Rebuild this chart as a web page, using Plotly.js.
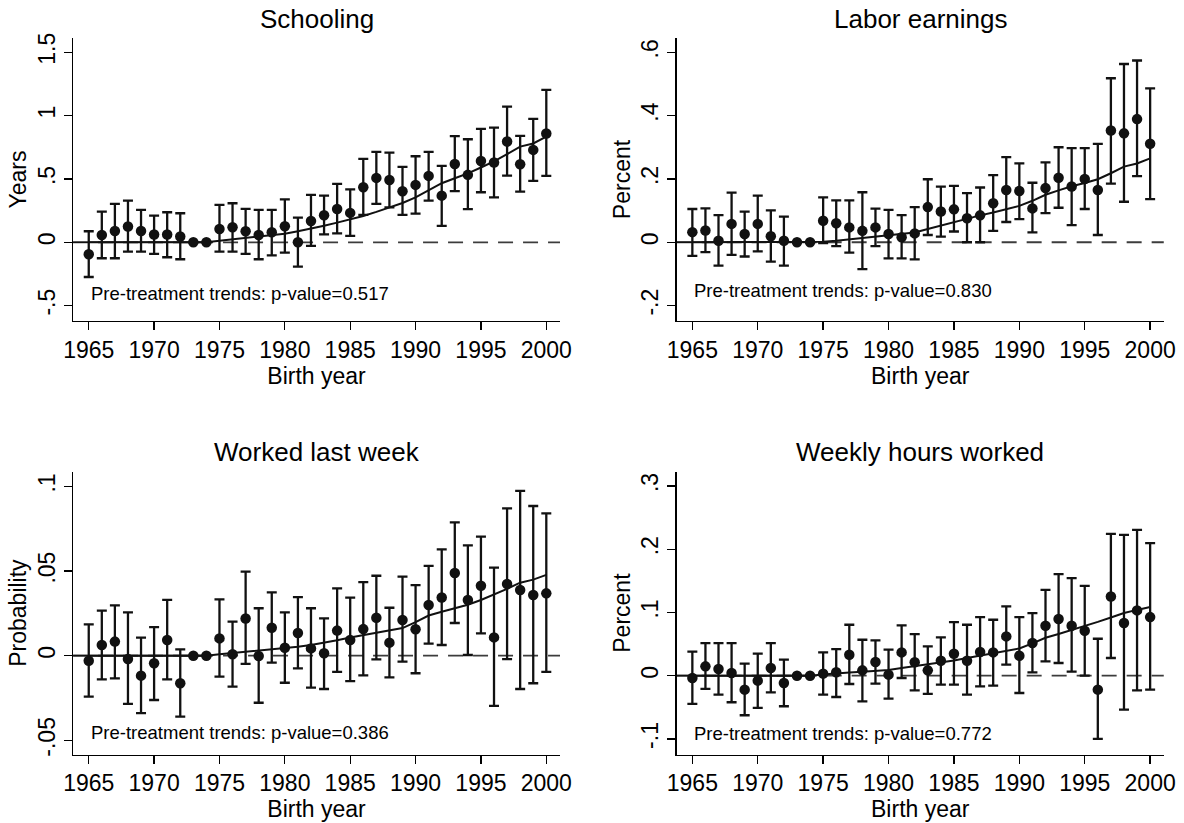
<!DOCTYPE html>
<html>
<head>
<meta charset="utf-8">
<script src="https://cdn.plot.ly/plotly-3.0.1.min.js"></script>
<style>
  html, body { margin: 0; padding: 0; background: #fff; }
  #chart { width: 1184px; height: 823px; }
</style>
</head>
<body>
<div id="chart"></div>
<script>
// Birth-year event-study estimates with 95% confidence intervals and fitted trend.
const years = [1965, 1966, 1967, 1968, 1969, 1970, 1971, 1972, 1973, 1974,
               1975, 1976, 1977, 1978, 1979, 1980, 1981, 1982, 1983, 1984,
               1985, 1986, 1987, 1988, 1989, 1990, 1991, 1992, 1993, 1994,
               1995, 1996, 1997, 1998, 1999, 2000];

// Last pre-treatment cohort (reference years carry no interval)
const lastPreYear = 1974;

// Schooling (years)
const schoolingEst = [-0.095, 0.058, 0.089, 0.124, 0.089, 0.061, 0.061, 0.045, 0, 0,
  0.105, 0.118, 0.087, 0.058, 0.079, 0.126, 0.0, 0.168, 0.213, 0.263,
  0.232, 0.434, 0.508, 0.492, 0.403, 0.453, 0.524, 0.368, 0.618, 0.532,
  0.642, 0.629, 0.795, 0.616, 0.729, 0.858];
const schoolingLo = [-0.274, -0.126, -0.126, -0.074, -0.074, -0.092, -0.118, -0.134, null, null,
  -0.074, -0.074, -0.092, -0.134, -0.103, -0.082, -0.192, -0.029, 0.063, 0.071,
  0.05, 0.216, 0.303, 0.276, 0.216, 0.226, 0.329, 0.129, 0.403, 0.261,
  0.395, 0.355, 0.526, 0.4, 0.484, 0.524];
const schoolingHi = [0.087, 0.242, 0.303, 0.329, 0.255, 0.211, 0.237, 0.229, null, null,
  0.295, 0.308, 0.263, 0.255, 0.255, 0.339, 0.195, 0.374, 0.368, 0.461,
  0.418, 0.658, 0.713, 0.708, 0.595, 0.679, 0.713, 0.603, 0.837, 0.813,
  0.895, 0.905, 1.071, 0.839, 0.974, 1.203];
const schoolingFit = [0, 0, 0, 0, 0, 0, 0, 0, 0, 0,
  0.012, 0.024, 0.035, 0.045, 0.056, 0.068, 0.087, 0.107, 0.13, 0.155,
  0.18, 0.208, 0.24, 0.273, 0.31, 0.355, 0.41, 0.466, 0.505, 0.544,
  0.59, 0.638, 0.695, 0.755, 0.78, 0.834];

// Labor earnings (percent)
const earningsEst = [0.032, 0.037, 0.005, 0.058, 0.026, 0.058, 0.019, 0.005, 0, 0,
  0.068, 0.06, 0.047, 0.036, 0.047, 0.026, 0.016, 0.028, 0.111, 0.097,
  0.104, 0.076, 0.085, 0.123, 0.165, 0.162, 0.107, 0.171, 0.204, 0.176,
  0.2, 0.165, 0.353, 0.344, 0.389, 0.311];
const earningsLo = [-0.043, -0.031, -0.074, -0.04, -0.045, -0.029, -0.061, -0.074, null, null,
  -0.003, -0.012, -0.033, -0.085, -0.012, -0.051, -0.051, -0.054, 0.023, 0.018,
  0.034, 0.0, 0.0, 0.036, 0.064, 0.073, 0.031, 0.092, 0.109, 0.054,
  0.105, 0.023, 0.185, 0.128, 0.209, 0.136];
const earningsHi = [0.105, 0.107, 0.086, 0.157, 0.097, 0.147, 0.101, 0.081, null, null,
  0.142, 0.132, 0.132, 0.158, 0.106, 0.102, 0.086, 0.111, 0.199, 0.176,
  0.178, 0.155, 0.173, 0.212, 0.269, 0.249, 0.188, 0.252, 0.3, 0.297,
  0.297, 0.311, 0.518, 0.563, 0.574, 0.486];
const earningsFit = [0, 0, 0, 0, 0, 0, 0, 0, 0, 0,
  0.002, 0.005, 0.009, 0.013, 0.017, 0.021, 0.025, 0.031, 0.042, 0.053,
  0.063, 0.075, 0.085, 0.094, 0.104, 0.115, 0.131, 0.15, 0.164, 0.177,
  0.187, 0.199, 0.218, 0.239, 0.249, 0.265];

// Worked last week (probability)
const workedEst = [-0.003, 0.0063, 0.0083, -0.002, -0.0118, -0.0045, 0.0093, -0.0163, 0, 0,
  0.0102, 0.0008, 0.022, -0.0002, 0.0165, 0.0047, 0.0134, 0.0043, 0.0014, 0.0148,
  0.0093, 0.0157, 0.0224, 0.0077, 0.0211, 0.0156, 0.0299, 0.0344, 0.0488, 0.0329,
  0.0413, 0.0108, 0.0423, 0.0388, 0.0358, 0.0368];
const workedLo = [-0.0242, -0.014, -0.0134, -0.0285, -0.034, -0.0262, -0.014, -0.036, null, null,
  -0.0124, -0.0183, -0.0049, -0.0278, -0.0041, -0.016, -0.0075, -0.0189, -0.0197, -0.0096,
  -0.015, -0.0116, -0.0022, -0.0128, -0.0035, -0.0104, 0.0071, 0.0063, 0.0193, 0.0004,
  0.0132, -0.0297, -0.002, -0.0197, -0.0163, -0.0096];
const workedHi = [0.0185, 0.0266, 0.0297, 0.0256, 0.0106, 0.0169, 0.0329, 0.0037, null, null,
  0.0333, 0.0201, 0.0496, 0.028, 0.0374, 0.0256, 0.0346, 0.028, 0.022, 0.0398,
  0.0343, 0.0435, 0.0472, 0.0283, 0.0467, 0.0417, 0.053, 0.0628, 0.0787, 0.0652,
  0.0703, 0.052, 0.087, 0.0974, 0.0884, 0.0841];
const workedFit = [0, 0, 0, 0, 0, 0, 0, 0, 0, 0,
  0.0008, 0.0015, 0.0022, 0.003, 0.0035, 0.0042, 0.0052, 0.0063, 0.0075, 0.0091,
  0.0107, 0.0122, 0.0135, 0.0149, 0.0163, 0.0198, 0.0237, 0.0259, 0.028, 0.0301,
  0.0329, 0.0361, 0.0395, 0.0431, 0.0449, 0.0477];

// Weekly hours worked (percent)
const hoursEst = [-0.0037, 0.0147, 0.0105, 0.0042, -0.0221, -0.0079, 0.0121, -0.0116, 0, 0,
  0.0032, 0.0053, 0.0332, 0.0084, 0.0216, 0.0016, 0.0368, 0.0211, 0.0084, 0.0237,
  0.0347, 0.0237, 0.0374, 0.0368, 0.0621, 0.0316, 0.0516, 0.0789, 0.0895, 0.0789,
  0.0711, -0.0221, 0.1253, 0.0832, 0.1032, 0.0926];
const hoursLo = [-0.0447, -0.021, -0.03, -0.042, -0.0626, -0.051, -0.0263, -0.0484, null, null,
  -0.03, -0.0337, -0.0132, -0.0405, -0.0126, -0.0363, -0.0037, -0.0232, -0.0289, -0.0142,
  -0.0142, -0.03, -0.0168, -0.0158, 0.0174, -0.0274, 0.0053, 0.0226, 0.02, 0.0063,
  0.0, -0.1, 0.0279, -0.0537, -0.0232, -0.0221];
const hoursHi = [0.038, 0.0516, 0.0516, 0.0516, 0.019, 0.0347, 0.0516, 0.0253, null, null,
  0.0368, 0.0421, 0.0805, 0.0568, 0.0558, 0.0411, 0.0795, 0.0658, 0.0463, 0.0605,
  0.0847, 0.0805, 0.0926, 0.0884, 0.1095, 0.0926, 0.0989, 0.1358, 0.1605, 0.1542,
  0.1421, 0.0584, 0.2242, 0.2226, 0.2305, 0.2095];
const hoursFit = [0, 0, 0, 0, 0, 0, 0, 0, 0, 0,
  0.002, 0.004, 0.005, 0.006, 0.007, 0.009, 0.012, 0.015, 0.0175, 0.021,
  0.024, 0.028, 0.032, 0.035, 0.039, 0.043, 0.051, 0.06, 0.066, 0.072,
  0.078, 0.085, 0.092, 0.099, 0.104, 0.1085];

const xTickVals = [1965, 1970, 1975, 1980, 1985, 1990, 1995, 2000];

// Panel definitions
const panels = [
  { title: 'Schooling', ytitle: 'Years', est: schoolingEst, lo: schoolingLo, hi: schoolingHi, fit: schoolingFit,
    pval: '0.517', yrange: [-0.621, 1.612], ytickvals: [-0.5, 0, 0.5, 1, 1.5], yticktext: ['-.5', '0', '.5', '1', '1.5'], noteY: -0.408,
    xdom: [0.0617, 0.473], ydom: [0.610, 0.9538] },
  { title: 'Labor earnings', ytitle: 'Percent', est: earningsEst, lo: earningsLo, hi: earningsHi, fit: earningsFit,
    pval: '0.830', yrange: [-0.2485, 0.645], ytickvals: [-0.2, 0, 0.2, 0.4, 0.6], yticktext: ['-.2', '0', '.2', '.4', '.6'], noteY: -0.152,
    xdom: [0.5715, 0.983], ydom: [0.610, 0.9538] },
  { title: 'Worked last week', ytitle: 'Probability', est: workedEst, lo: workedLo, hi: workedHi, fit: workedFit,
    pval: '0.386', yrange: [-0.0584, 0.1087], ytickvals: [-0.05, 0, 0.05, 0.1], yticktext: ['-.05', '0', '.05', '.1'], noteY: -0.0454,
    xdom: [0.0617, 0.473], ydom: [0.0832, 0.4269] },
  { title: 'Weekly hours worked', ytitle: 'Percent', est: hoursEst, lo: hoursLo, hi: hoursHi, fit: hoursFit,
    pval: '0.772', yrange: [-0.1247, 0.3226], ytickvals: [-0.1, 0, 0.1, 0.2, 0.3], yticktext: ['-.1', '0', '.1', '.2', '.3'], noteY: -0.0916,
    xdom: [0.5715, 0.983], ydom: [0.0832, 0.4269] }
];

const xRange = [1963.8, 2001.05];
const FONT = 'Liberation Sans, Arial, Helvetica, sans-serif';
const INK = '#111111';

const traces = [];
const shapes = [];
const annotations = [];
const layout = {
  width: 1184, height: 823,
  margin: { l: 0, r: 0, t: 0, b: 0 },
  paper_bgcolor: '#ffffff', plot_bgcolor: '#ffffff',
  showlegend: false,
  font: { family: FONT, color: '#000', size: 22 }
};

panels.forEach((p, i) => {
  const n = i + 1;
  const xa = n === 1 ? 'x' : 'x' + n;
  const ya = n === 1 ? 'y' : 'y' + n;
  const xKey = n === 1 ? 'xaxis' : 'xaxis' + n;
  const yKey = n === 1 ? 'yaxis' : 'yaxis' + n;

  const plus = p.est.map((v, k) => p.hi[k] === null ? null : p.hi[k] - v);
  const minus = p.est.map((v, k) => p.lo[k] === null ? null : v - p.lo[k]);

  // Zero reference: dashed across the panel, solid over the pre-treatment span
  shapes.push({ type: 'line', xref: xa, yref: ya, x0: xRange[0], x1: xRange[1], y0: 0, y1: 0,
    line: { color: '#3c3c3c', width: 1.8, dash: '15px,10px' }, layer: 'below' });
  shapes.push({ type: 'line', xref: xa, yref: ya, x0: xRange[0], x1: lastPreYear, y0: 0, y1: 0,
    line: { color: INK, width: 1.6 }, layer: 'below' });

  // Fitted trend
  traces.push({ type: 'scatter', mode: 'lines', x: years, y: p.fit, xaxis: xa, yaxis: ya,
    line: { color: INK, width: 2 }, hoverinfo: 'skip' });

  // Point estimates with confidence intervals
  traces.push({ type: 'scatter', mode: 'markers', x: years, y: p.est, xaxis: xa, yaxis: ya,
    marker: { color: INK, size: 10.5, line: { width: 0 } },
    error_y: { type: 'data', symmetric: false, array: plus, arrayminus: minus,
      color: INK, thickness: 2.3, width: 5 } });

  layout[xKey] = {
    domain: p.xdom, anchor: ya, range: xRange,
    tickvals: xTickVals, ticks: 'outside', ticklen: 8, tickwidth: 1.3, tickcolor: '#000',
    showline: true, linecolor: '#000', linewidth: 1.3, mirror: false,
    showgrid: false, zeroline: false,
    tickfont: { family: FONT, size: 23, color: '#000' },
    title: { text: 'Birth year', font: { family: FONT, size: 23, color: '#000' }, standoff: 3 },
    automargin: false
  };
  layout[yKey] = {
    domain: p.ydom, anchor: xa, range: p.yrange,
    tickvals: p.ytickvals, ticktext: p.yticktext, tickangle: -90,
    ticks: 'outside', ticklen: 8, tickwidth: 1.3, tickcolor: '#000',
    showline: true, linecolor: '#000', linewidth: 1.3, mirror: false,
    showgrid: false, zeroline: false,
    tickfont: { family: FONT, size: 23, color: '#000' },
    title: { text: p.ytitle, font: { family: FONT, size: 23, color: '#000' }, standoff: 0 },
    automargin: false
  };

  // Panel title
  annotations.push({ text: p.title, xref: 'paper', yref: 'paper',
    x: (p.xdom[0] + p.xdom[1]) / 2, y: p.ydom[1] + 0.0236, xanchor: 'center', yanchor: 'middle',
    showarrow: false, font: { family: FONT, size: 26, color: '#000' } });

  // Pre-trend test note
  annotations.push({ text: 'Pre-treatment trends: p-value=' + p.pval, xref: xa, yref: ya,
    x: years[0], y: p.noteY, xanchor: 'left', yanchor: 'middle', showarrow: false,
    font: { family: FONT, size: 18.5, color: '#000' } });
});

layout.shapes = shapes;
layout.annotations = annotations;

Plotly.newPlot('chart', traces, layout, { displayModeBar: false, staticPlot: true });
</script>
</body>
</html>
